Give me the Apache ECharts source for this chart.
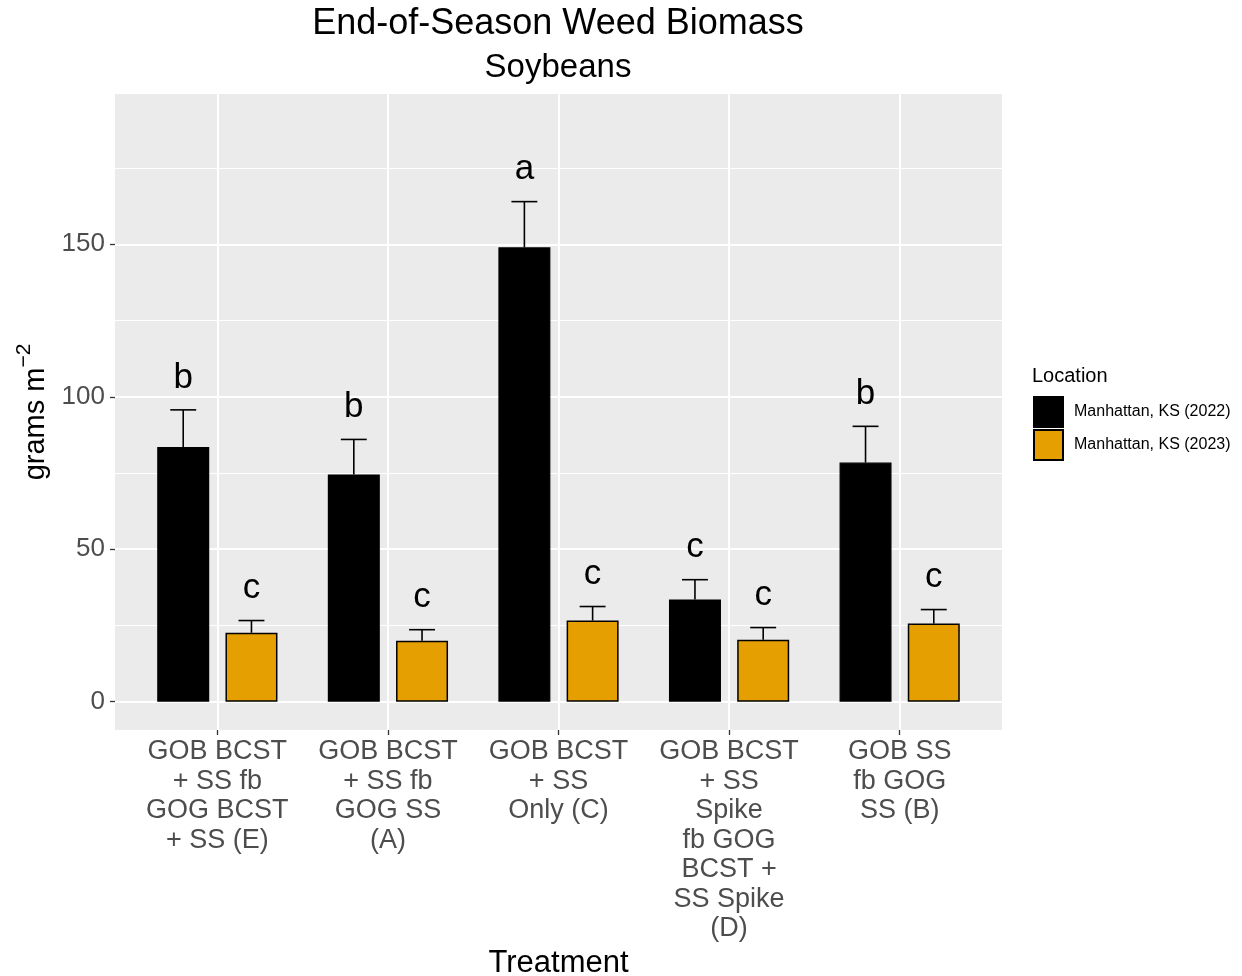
<!DOCTYPE html>
<html>
<head>
<meta charset="utf-8">
<script src="https://cdn.jsdelivr.net/npm/echarts@6/dist/echarts.min.js"></script>
<style>html,body{margin:0;padding:0;background:#fff;overflow:hidden}#c{width:1242px;height:976px}</style>
</head>
<body>
<div id="c"></div>
<script>
// ---- data ----
const categories = [
  'GOB BCST\n+ SS fb\nGOG BCST\n+ SS (E)',
  'GOB BCST\n+ SS fb\nGOG SS\n(A)',
  'GOB BCST\n+ SS\nOnly (C)',
  'GOB BCST\n+ SS\nSpike\nfb GOG\nBCST +\nSS Spike\n(D)',
  'GOB SS\nfb GOG\nSS (B)'
];
const seriesNames = ['Manhattan, KS (2022)', 'Manhattan, KS (2023)'];
const biomass2022 = [83.5, 74.5, 149.0, 33.5, 78.4];
const upper2022   = [95.7, 86.0, 164.0, 40.0, 90.3];
const letters2022 = ['b', 'b', 'a', 'c', 'b'];
const biomass2023 = [22.6, 20.0, 26.6, 20.3, 25.6];
const upper2023   = [26.6, 23.6, 31.2, 24.3, 30.2];
const letters2023 = ['c', 'c', 'c', 'c', 'c'];
const yTicks = [0, 50, 100, 150];
const yMinorTicks = [25, 75, 125, 175];
const DODGE = 0.2;

const FONT = 'Liberation Sans, Arial, sans-serif';
const chart = echarts.init(document.getElementById('c'), null, {renderer: 'canvas'});

const xIdx = categories.map((_, i) => i);
const bar22 = biomass2022.map((v, i) => [i - DODGE, v]);
const bar23 = biomass2023.map((v, i) => [i + DODGE, v]);
const err22 = biomass2022.map((v, i) => [i - DODGE, v, upper2022[i], letters2022[i]]);
const err23 = biomass2023.map((v, i) => [i + DODGE, v, upper2023[i], letters2023[i]]);

function renderErr(params, api) {
  const x = api.value(0), lo = api.value(1), hi = api.value(2);
  const letter = api.value(3);
  const p1 = api.coord([x, lo]);
  const p2 = api.coord([x, hi]);
  const half = api.size([0.076, 0])[0];
  const st = {stroke: '#000', lineWidth: 1.6};
  return {
    type: 'group',
    children: [
      {type: 'line', shape: {x1: p1[0], y1: p1[1], x2: p2[0], y2: p2[1]}, style: st},
      {type: 'line', shape: {x1: p2[0] - half, y1: p2[1], x2: p2[0] + half, y2: p2[1]}, style: st},
      {type: 'text', x: p2[0], y: p2[1] - 32, style: {text: letter, fontSize: 35, fontFamily: FONT, fill: '#000', textAlign: 'center', textVerticalAlign: 'middle'}}
    ]
  };
}

const option = {
  backgroundColor: '#fff',
  animation: false,
  textStyle: {fontFamily: FONT},
  title: [
    {text: 'End-of-Season Weed Biomass', left: 558, top: 6, textAlign: 'center', padding: 0,
     textStyle: {fontSize: 36, fontWeight: 'normal', color: '#000', fontFamily: FONT}},
    {text: 'Soybeans', left: 558, top: 51, textAlign: 'center', padding: 0,
     textStyle: {fontSize: 33, fontWeight: 'normal', color: '#000', fontFamily: FONT}},
    {text: 'Location', left: 1032, top: 366, padding: 0,
     textStyle: {fontSize: 20, fontWeight: 'normal', color: '#000', fontFamily: FONT}}
  ],
  legend: {
    orient: 'vertical', left: 1033, top: 396, padding: 0,
    itemWidth: 29, itemHeight: 30, itemGap: 1, icon: 'rect',
    data: seriesNames,
    textStyle: {fontSize: 16, color: '#000', fontFamily: FONT, padding: [0, 0, 0, 6]}
  },
  grid: {left: 115, top: 94, width: 887, height: 636, show: true, backgroundColor: '#EBEBEB',
         borderWidth: 0, containLabel: false, outerBoundsMode: 'none'},
  xAxis: {
    type: 'value', min: -0.6, max: 4.6,
    name: 'Treatment', nameLocation: 'middle', nameGap: 210,
    nameTextStyle: {fontSize: 31, color: '#000', fontFamily: FONT},
    axisLine: {show: false, onZero: false},
    axisTick: {show: true, length: 5, lineStyle: {color: '#333', width: 1.3}, customValues: xIdx},
    axisLabel: {customValues: xIdx, formatter: v => categories[Math.round(v)], fontSize: 27, lineHeight: 29.5,
      color: '#4D4D4D', margin: 7, fontFamily: FONT, align: 'center'},
    splitLine: {show: true, lineStyle: {color: '#fff', width: 2}, customValues: xIdx}
  },
  yAxis: [{
    type: 'value', min: -9.3, max: 199.3,
    name: '{a|grams m}{s|−2}', nameLocation: 'middle', nameGap: 57, nameRotate: 90,
    nameTextStyle: {fontSize: 29, color: '#000', fontFamily: FONT,
      rich: {a: {fontSize: 29, color: '#000', fontFamily: FONT, verticalAlign: 'bottom'},
             s: {fontSize: 21, color: '#000', fontFamily: FONT, verticalAlign: 'top', padding: [0, 0, 16, 0]}}},
    axisLine: {show: false, onZero: false},
    axisTick: {show: true, length: 5, lineStyle: {color: '#333', width: 1.3}, customValues: yTicks},
    axisLabel: {customValues: yTicks, fontSize: 26, color: '#4D4D4D', margin: 10, fontFamily: FONT},
    splitLine: {show: true, lineStyle: {color: '#fff', width: 2}, customValues: yTicks}
  }, {
    type: 'value', min: -9.3, max: 199.3, gridIndex: 0, position: 'left',
    axisLine: {show: false, onZero: false},
    axisTick: {show: false, customValues: yMinorTicks},
    axisLabel: {show: false, customValues: yMinorTicks},
    splitLine: {show: true, lineStyle: {color: '#fff', width: 1}, customValues: yMinorTicks}
  }],
  series: [
    {name: seriesNames[0], type: 'bar', data: bar22, barWidth: 52, barGap: '-100%', clip: false,
     itemStyle: {color: '#000', borderColor: '#000', borderWidth: 1.2}, z: 3},
    {name: seriesNames[1], type: 'bar', data: bar23, barWidth: 52, barGap: '-100%', clip: false,
     itemStyle: {color: '#E69F00', borderColor: '#000', borderWidth: 1.5}, z: 3},
    {type: 'custom', data: err22, renderItem: renderErr, z: 4, encode: {x: 0, y: [1, 2]}},
    {type: 'custom', data: err23, renderItem: renderErr, z: 4, encode: {x: 0, y: [1, 2]}}
  ]
};
chart.setOption(option);
</script>
</body>
</html>
